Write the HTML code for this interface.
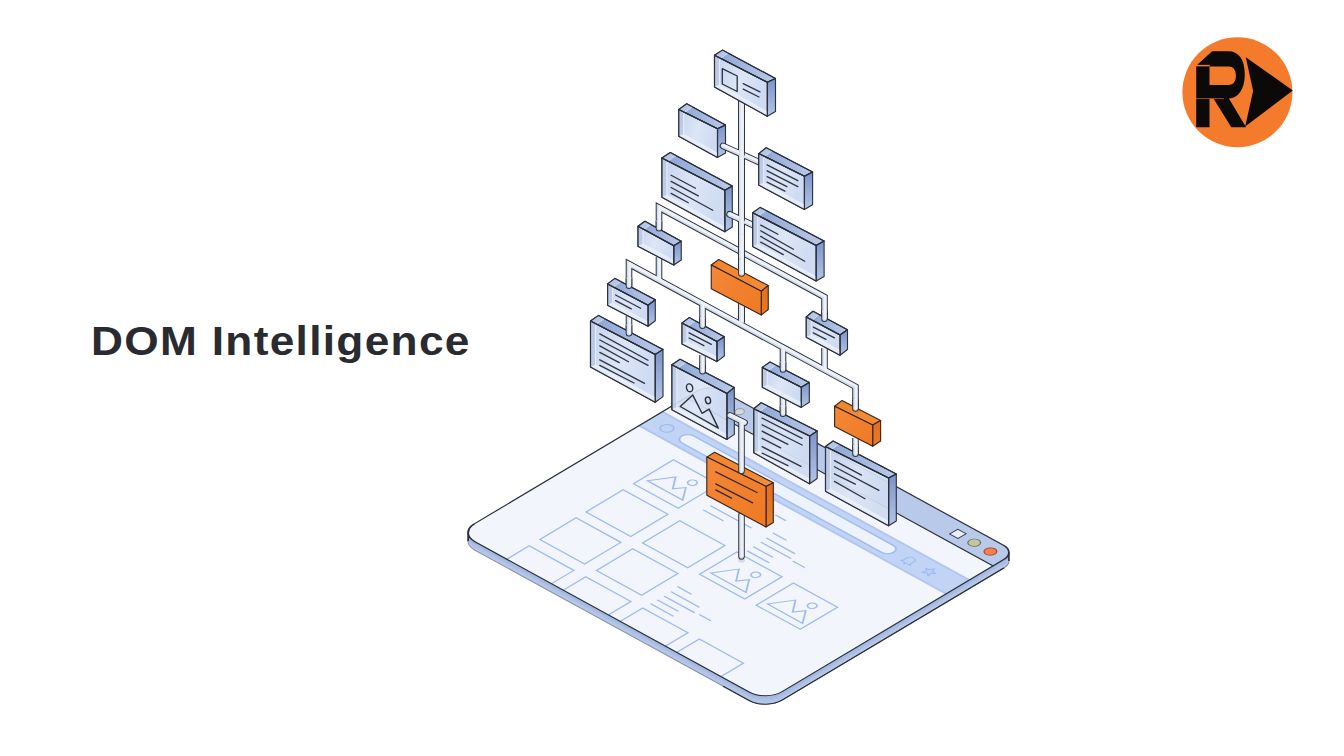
<!DOCTYPE html>
<html><head><meta charset="utf-8"><title>DOM Intelligence</title>
<style>
html,body{margin:0;padding:0;background:#fff;}
body{width:1344px;height:756px;overflow:hidden;position:relative;font-family:"Liberation Sans",sans-serif;}
svg{position:absolute;left:0;top:0;display:block;}
.title{position:absolute;left:91px;top:317px;font-size:40.6px;line-height:48px;font-weight:700;color:#2a2a31;white-space:nowrap;transform-origin:0 50%;letter-spacing:1.2px;transform:scaleX(1.09);}
</style></head><body>
<svg width="1344" height="756" viewBox="0 0 1344 756">
<defs>
<linearGradient id="gfront" x1="0" y1="0" x2="1" y2="0.4"><stop offset="0" stop-color="#c4d2ec"/><stop offset=".55" stop-color="#dce6f6"/><stop offset="1" stop-color="#cfdbf2"/></linearGradient>
<linearGradient id="gtop" x1="0" y1="0" x2="1" y2="0"><stop offset="0" stop-color="#8ba4d4"/><stop offset="1" stop-color="#bac9e8"/></linearGradient>
<linearGradient id="gright" x1="0" y1="0" x2="0" y2="1"><stop offset="0" stop-color="#7a94ca"/><stop offset="1" stop-color="#b3c5e6"/></linearGradient>
<linearGradient id="ofront" x1="0" y1="0" x2="1" y2="1"><stop offset="0" stop-color="#f4873a"/><stop offset="1" stop-color="#ee7a22"/></linearGradient>
<linearGradient id="otop" x1="0" y1="0" x2="1" y2="0"><stop offset="0" stop-color="#f0842a"/><stop offset="1" stop-color="#f38d38"/></linearGradient>
<linearGradient id="oright" x1="0" y1="0" x2="0" y2="1"><stop offset="0" stop-color="#e06e1e"/><stop offset="1" stop-color="#ea7a28"/></linearGradient>
<linearGradient id="gpipe" gradientUnits="userSpaceOnUse" x1="0" y1="0" x2="8" y2="0" spreadMethod="repeat"><stop offset="0" stop-color="#e4e9f2"/><stop offset="1" stop-color="#e4e9f2"/></linearGradient>
<linearGradient id="gside" gradientUnits="userSpaceOnUse" x1="460" y1="0" x2="1010" y2="0"><stop offset="0" stop-color="#a3b8e0"/><stop offset=".5" stop-color="#a9bde3"/><stop offset=".56" stop-color="#bccbe9"/><stop offset=".62" stop-color="#8fa6d4"/><stop offset="1" stop-color="#869ecf"/></linearGradient>
<linearGradient id="gol1" gradientUnits="userSpaceOnUse" x1="185" y1="0" x2="265" y2="0"><stop offset="0" stop-color="#ffffff" stop-opacity=".85"/><stop offset="1" stop-color="#2b303c"/></linearGradient>
<linearGradient id="gol2" gradientUnits="userSpaceOnUse" x1="185" y1="0" x2="265" y2="0"><stop offset="0" stop-color="#8a94aa"/><stop offset="1" stop-color="#7f899c"/></linearGradient>
</defs>
<rect width="1344" height="756" fill="#ffffff"/>
<g id="platform">
<g transform="translate(0 8.5)"><g transform="matrix(0.87700 0.48049 -0.85901 0.51197 709.0 384.0)"><path d="M14 0 L336.06 0 A14 14 0 0 1 350.06 14 L350.06 272.03 A19 19 0 0 1 331.06 291.03 L18 291.03 A18 18 0 0 1 0 273.03 L0 14 A14 14 0 0 1 14 0 Z" fill="url(#gside)" stroke="url(#gol2)" stroke-width="1.1"/><path d="M350.06 14 L350.06 272.03 A19 19 0 0 1 331.06 291.03 L301.06 291.03" fill="none" stroke="#2b303c" stroke-width="1.5"/></g></g>
<g transform="translate(0 7.5)"><path transform="matrix(0.87700 0.48049 -0.85901 0.51197 709.0 384.0)" d="M14 0 L336.06 0 A14 14 0 0 1 350.06 14 L350.06 272.03 A19 19 0 0 1 331.06 291.03 L18 291.03 A18 18 0 0 1 0 273.03 L0 14 A14 14 0 0 1 14 0 Z" fill="url(#gside)"/><path transform="matrix(0.87700 0.48049 -0.85901 0.51197 709.0 384.0)" d="M14 0 L336.06 0 A14 14 0 0 1 350.06 14 L350.06 272.03 A19 19 0 0 1 331.06 291.03 L18 291.03 A18 18 0 0 1 0 273.03 L0 14 A14 14 0 0 1 14 0 Z" fill="#fff" fill-opacity="0.255"/></g>
<g transform="translate(0 6.5)"><path transform="matrix(0.87700 0.48049 -0.85901 0.51197 709.0 384.0)" d="M14 0 L336.06 0 A14 14 0 0 1 350.06 14 L350.06 272.03 A19 19 0 0 1 331.06 291.03 L18 291.03 A18 18 0 0 1 0 273.03 L0 14 A14 14 0 0 1 14 0 Z" fill="url(#gside)"/><path transform="matrix(0.87700 0.48049 -0.85901 0.51197 709.0 384.0)" d="M14 0 L336.06 0 A14 14 0 0 1 350.06 14 L350.06 272.03 A19 19 0 0 1 331.06 291.03 L18 291.03 A18 18 0 0 1 0 273.03 L0 14 A14 14 0 0 1 14 0 Z" fill="#fff" fill-opacity="0.211"/></g>
<g transform="translate(0 5.5)"><path transform="matrix(0.87700 0.48049 -0.85901 0.51197 709.0 384.0)" d="M14 0 L336.06 0 A14 14 0 0 1 350.06 14 L350.06 272.03 A19 19 0 0 1 331.06 291.03 L18 291.03 A18 18 0 0 1 0 273.03 L0 14 A14 14 0 0 1 14 0 Z" fill="url(#gside)"/><path transform="matrix(0.87700 0.48049 -0.85901 0.51197 709.0 384.0)" d="M14 0 L336.06 0 A14 14 0 0 1 350.06 14 L350.06 272.03 A19 19 0 0 1 331.06 291.03 L18 291.03 A18 18 0 0 1 0 273.03 L0 14 A14 14 0 0 1 14 0 Z" fill="#fff" fill-opacity="0.166"/></g>
<g transform="translate(0 4.5)"><path transform="matrix(0.87700 0.48049 -0.85901 0.51197 709.0 384.0)" d="M14 0 L336.06 0 A14 14 0 0 1 350.06 14 L350.06 272.03 A19 19 0 0 1 331.06 291.03 L18 291.03 A18 18 0 0 1 0 273.03 L0 14 A14 14 0 0 1 14 0 Z" fill="url(#gside)"/><path transform="matrix(0.87700 0.48049 -0.85901 0.51197 709.0 384.0)" d="M14 0 L336.06 0 A14 14 0 0 1 350.06 14 L350.06 272.03 A19 19 0 0 1 331.06 291.03 L18 291.03 A18 18 0 0 1 0 273.03 L0 14 A14 14 0 0 1 14 0 Z" fill="#fff" fill-opacity="0.121"/></g>
<g transform="translate(0 3.5)"><path transform="matrix(0.87700 0.48049 -0.85901 0.51197 709.0 384.0)" d="M14 0 L336.06 0 A14 14 0 0 1 350.06 14 L350.06 272.03 A19 19 0 0 1 331.06 291.03 L18 291.03 A18 18 0 0 1 0 273.03 L0 14 A14 14 0 0 1 14 0 Z" fill="url(#gside)"/><path transform="matrix(0.87700 0.48049 -0.85901 0.51197 709.0 384.0)" d="M14 0 L336.06 0 A14 14 0 0 1 350.06 14 L350.06 272.03 A19 19 0 0 1 331.06 291.03 L18 291.03 A18 18 0 0 1 0 273.03 L0 14 A14 14 0 0 1 14 0 Z" fill="#fff" fill-opacity="0.076"/></g>
<g transform="translate(0 2.5)"><path transform="matrix(0.87700 0.48049 -0.85901 0.51197 709.0 384.0)" d="M14 0 L336.06 0 A14 14 0 0 1 350.06 14 L350.06 272.03 A19 19 0 0 1 331.06 291.03 L18 291.03 A18 18 0 0 1 0 273.03 L0 14 A14 14 0 0 1 14 0 Z" fill="url(#gside)"/><path transform="matrix(0.87700 0.48049 -0.85901 0.51197 709.0 384.0)" d="M14 0 L336.06 0 A14 14 0 0 1 350.06 14 L350.06 272.03 A19 19 0 0 1 331.06 291.03 L18 291.03 A18 18 0 0 1 0 273.03 L0 14 A14 14 0 0 1 14 0 Z" fill="#fff" fill-opacity="0.032"/></g>
<g transform="translate(0 1.5)"><path transform="matrix(0.87700 0.48049 -0.85901 0.51197 709.0 384.0)" d="M14 0 L336.06 0 A14 14 0 0 1 350.06 14 L350.06 272.03 A19 19 0 0 1 331.06 291.03 L18 291.03 A18 18 0 0 1 0 273.03 L0 14 A14 14 0 0 1 14 0 Z" fill="url(#gside)"/><path transform="matrix(0.87700 0.48049 -0.85901 0.51197 709.0 384.0)" d="M14 0 L336.06 0 A14 14 0 0 1 350.06 14 L350.06 272.03 A19 19 0 0 1 331.06 291.03 L18 291.03 A18 18 0 0 1 0 273.03 L0 14 A14 14 0 0 1 14 0 Z" fill="#fff" fill-opacity="-0.013"/></g>
<g transform="translate(0 0.5)"><path transform="matrix(0.87700 0.48049 -0.85901 0.51197 709.0 384.0)" d="M14 0 L336.06 0 A14 14 0 0 1 350.06 14 L350.06 272.03 A19 19 0 0 1 331.06 291.03 L18 291.03 A18 18 0 0 1 0 273.03 L0 14 A14 14 0 0 1 14 0 Z" fill="url(#gside)"/><path transform="matrix(0.87700 0.48049 -0.85901 0.51197 709.0 384.0)" d="M14 0 L336.06 0 A14 14 0 0 1 350.06 14 L350.06 272.03 A19 19 0 0 1 331.06 291.03 L18 291.03 A18 18 0 0 1 0 273.03 L0 14 A14 14 0 0 1 14 0 Z" fill="#fff" fill-opacity="-0.058"/></g>
<g transform="matrix(0.87700 0.48049 -0.85901 0.51197 709.0 384.0)">
<clipPath id="pc"><path d="M14 0 L336.06 0 A14 14 0 0 1 350.06 14 L350.06 272.03 A19 19 0 0 1 331.06 291.03 L18 291.03 A18 18 0 0 1 0 273.03 L0 14 A14 14 0 0 1 14 0 Z"/></clipPath>
<path d="M14 0 L336.06 0 A14 14 0 0 1 350.06 14 L350.06 272.03 A19 19 0 0 1 331.06 291.03 L18 291.03 A18 18 0 0 1 0 273.03 L0 14 A14 14 0 0 1 14 0 Z" fill="#f2f6fc"/>
<g clip-path="url(#pc)">
<rect x="-2" y="-2" width="354.06" height="28.8" fill="#b8c9e9"/>
<line x1="0" y1="26.8" x2="350.06" y2="26.8" stroke="#2b303c" stroke-width="1.3"/>
<rect x="-2" y="53.3" width="354.06" height="29" fill="#c2d4f5"/>
<rect x="-2" y="53.3" width="354.06" height="2.2" fill="#a9c1ef" opacity=".7"/>
<rect x="-2" y="80.1" width="354.06" height="2.2" fill="#a9c1ef" opacity=".7"/>
</g>
<rect x="35.8" y="61.5" width="241.6" height="13.6" rx="6.8" fill="#edf3fc" stroke="#9fbbf0" stroke-width="1.6"/>
<circle cx="19.2" cy="68.6" r="5.6" fill="none" stroke="#9fbbf0" stroke-width="1.5"/>
<path d="M291 71 L291 67 A4 4 0 0 1 299 67 L299 71 L300.5 72.5 L289.5 72.5 Z M294 74 L296 74" fill="none" stroke="#9fbbf0" stroke-width="1.3" stroke-linejoin="round"/>
<path d="M318 62.5 L319.5 66.2 L323.5 66.5 L320.4 68.8 L321.5 73 L318 70.6 L314.5 73 L315.6 68.8 L312.5 66.5 L316.5 66.2 Z" fill="none" stroke="#9fbbf0" stroke-width="1.3" stroke-linejoin="round"/>
<rect x="292.5" y="9" width="9.5" height="9.5" fill="#e9effa" stroke="#2b303c" stroke-width="1"/>
<circle cx="315.7" cy="13.6" r="5.2" fill="#c3c79f" stroke="#6a6f58" stroke-width="1"/>
<circle cx="334.2" cy="13.6" r="5.2" fill="#f4804f" stroke="#9a4a2a" stroke-width="1"/>
<g fill="none" stroke="#9fbbf0" stroke-width="1.5" stroke-linejoin="miter" clip-path="url(#pc)">
<rect x="54.5" y="97" width="51.0" height="46.5"/>
<path d="M59.8 132.8 L72.8 113.2 L83.0 126.9 L89.5 118.3 L100.1 132.9 Z"/>
<circle cx="88.5" cy="109.7" r="3.9"/>
<rect x="54.5" y="155.5" width="51.0" height="43.3"/>
<rect x="54.5" y="210.3" width="51.0" height="42.2"/>
<rect x="54.5" y="265" width="51.0" height="43.0"/>
<rect x="119" y="155.5" width="51.5" height="43.3"/>
<rect x="119" y="210.3" width="51.5" height="42.2"/>
<rect x="119" y="265" width="51.5" height="43.0"/>
<rect x="184" y="155.5" width="51.5" height="43.3"/>
<path d="M189.3 191.3 L202.3 171.7 L212.5 185.4 L219.0 176.8 L229.6 191.4 Z"/>
<circle cx="218.0" cy="168.2" r="3.9"/>
<rect x="184" y="265" width="51.5" height="43.0"/>
<rect x="248.5" y="155.5" width="50.3" height="43.3"/>
<path d="M253.8 191.3 L266.8 171.7 L277.0 185.4 L283.5 176.8 L294.1 191.4 Z"/>
<circle cx="282.5" cy="168.2" r="3.9"/>
<rect x="248.5" y="265" width="50.3" height="43.0"/>
<line x1="122" y1="123" x2="169" y2="123"/>
<line x1="122" y1="131.3" x2="145" y2="131.3"/>
<line x1="170" y1="96.3" x2="182" y2="96.3"/>
<line x1="186.3" y1="116" x2="202" y2="116"/>
<line x1="187.5" y1="124.8" x2="220.3" y2="124.8"/>
<line x1="188.5" y1="132" x2="223" y2="132"/>
<line x1="188.3" y1="140.8" x2="211" y2="140.8"/>
<line x1="188.8" y1="148.5" x2="214.2" y2="148.5"/>
<line x1="226.3" y1="133.5" x2="240" y2="133.5"/>
<line x1="183" y1="223.7" x2="199.3" y2="223.7"/>
<line x1="184.5" y1="232.6" x2="217" y2="232.6"/>
<line x1="184.7" y1="240.8" x2="219.5" y2="240.8"/>
<line x1="184.4" y1="248.5" x2="208.6" y2="248.5"/>
<line x1="184.3" y1="256.2" x2="210.6" y2="256.2"/>
<line x1="223.7" y1="240" x2="237.3" y2="240"/>
</g>
<path d="M331.06 291.03 L18 291.03 A18 18 0 0 1 0 273.03" fill="none" stroke="#2b303c" stroke-width="1.4"/>
<path d="M0 273.03 A18 18 0 0 0 5.14 285.63 L13.61 294.28" fill="none" stroke="#2b303c" stroke-width="1.4"/>
<path d="M346.06 4.20 L354.53 12.85" fill="none" stroke="#2b303c" stroke-width="1.3"/>
<path d="M0 273.03 L0 14 A14 14 0 0 1 14 0 L336.06 0 A14 14 0 0 1 350.06 14 L350.06 272.03 A19 19 0 0 1 331.06 291.03" fill="none" stroke="#2b303c" stroke-width="1.4"/>
</g>
</g>
<ellipse cx="741.6" cy="560.5" rx="3.2" ry="2.2" fill="#c8cfd8" opacity=".7"/>
<path d="M741.50 515.00 L741.50 556.50" fill="none" stroke="#30353f" stroke-width="6.6" stroke-linecap="round" stroke-linejoin="miter"/>
<path d="M741.50 515.00 L741.50 556.50" fill="none" stroke="#d6deea" stroke-width="4.60" stroke-linecap="round" stroke-linejoin="miter"/>
<path d="M741.50 515.00 L741.50 556.50" transform="translate(.6 -.5)" fill="none" stroke="#eef2f8" stroke-width="2.60" stroke-linecap="round" stroke-linejoin="miter"/>
<path d="M659.00 232.00 L659.00 207.50 L824.50 297.00 L824.50 322.00" fill="none" stroke="#30353f" stroke-width="6.6" stroke-linecap="butt" stroke-linejoin="miter"/>
<path d="M659.00 232.00 L659.00 207.50 L824.50 297.00 L824.50 322.00" fill="none" stroke="#d6deea" stroke-width="4.60" stroke-linecap="butt" stroke-linejoin="miter"/>
<path d="M659.00 232.00 L659.00 207.50 L824.50 297.00 L824.50 322.00" transform="translate(.6 -.5)" fill="none" stroke="#eef2f8" stroke-width="2.60" stroke-linecap="butt" stroke-linejoin="miter"/>
<path d="M741.50 100.00 L741.50 322.80" fill="none" stroke="#30353f" stroke-width="7.0" stroke-linecap="butt" stroke-linejoin="miter"/>
<path d="M629.00 289.00 L629.00 264.00 L855.50 386.70 L855.50 411.00" fill="none" stroke="#30353f" stroke-width="6.6" stroke-linecap="butt" stroke-linejoin="miter"/>
<path d="M659.00 257.00 L659.00 280.40" fill="none" stroke="#30353f" stroke-width="6.6" stroke-linecap="butt" stroke-linejoin="miter"/>
<path d="M702.50 303.90 L702.50 329.00" fill="none" stroke="#30353f" stroke-width="6.6" stroke-linecap="butt" stroke-linejoin="miter"/>
<path d="M783.00 347.50 L783.00 372.00" fill="none" stroke="#30353f" stroke-width="6.6" stroke-linecap="butt" stroke-linejoin="miter"/>
<path d="M824.50 348.00 L824.50 370.00" fill="none" stroke="#30353f" stroke-width="6.6" stroke-linecap="butt" stroke-linejoin="miter"/>
<path d="M629.00 316.00 L629.00 336.00" fill="none" stroke="#30353f" stroke-width="6.6" stroke-linecap="butt" stroke-linejoin="miter"/>
<path d="M702.50 355.00 L702.50 374.00" fill="none" stroke="#30353f" stroke-width="6.6" stroke-linecap="butt" stroke-linejoin="miter"/>
<path d="M783.00 397.00 L783.00 417.00" fill="none" stroke="#30353f" stroke-width="6.6" stroke-linecap="butt" stroke-linejoin="miter"/>
<path d="M855.50 438.00 L855.50 457.00" fill="none" stroke="#30353f" stroke-width="6.6" stroke-linecap="butt" stroke-linejoin="miter"/>
<path d="M738.50 218.40 L753.50 225.30" fill="none" stroke="#30353f" stroke-width="6.6" stroke-linecap="butt" stroke-linejoin="miter"/>
<path d="M738.50 152.80 L759.20 162.20" fill="none" stroke="#30353f" stroke-width="6.6" stroke-linecap="butt" stroke-linejoin="miter"/>
<path d="M741.50 100.00 L741.50 322.80" fill="none" stroke="#d6deea" stroke-width="5.00" stroke-linecap="butt" stroke-linejoin="miter"/>
<path d="M629.00 289.00 L629.00 264.00 L855.50 386.70 L855.50 411.00" fill="none" stroke="#d6deea" stroke-width="4.60" stroke-linecap="butt" stroke-linejoin="miter"/>
<path d="M659.00 257.00 L659.00 280.40" fill="none" stroke="#d6deea" stroke-width="4.60" stroke-linecap="butt" stroke-linejoin="miter"/>
<path d="M702.50 303.90 L702.50 329.00" fill="none" stroke="#d6deea" stroke-width="4.60" stroke-linecap="butt" stroke-linejoin="miter"/>
<path d="M783.00 347.50 L783.00 372.00" fill="none" stroke="#d6deea" stroke-width="4.60" stroke-linecap="butt" stroke-linejoin="miter"/>
<path d="M824.50 348.00 L824.50 370.00" fill="none" stroke="#d6deea" stroke-width="4.60" stroke-linecap="butt" stroke-linejoin="miter"/>
<path d="M629.00 316.00 L629.00 336.00" fill="none" stroke="#d6deea" stroke-width="4.60" stroke-linecap="butt" stroke-linejoin="miter"/>
<path d="M702.50 355.00 L702.50 374.00" fill="none" stroke="#d6deea" stroke-width="4.60" stroke-linecap="butt" stroke-linejoin="miter"/>
<path d="M783.00 397.00 L783.00 417.00" fill="none" stroke="#d6deea" stroke-width="4.60" stroke-linecap="butt" stroke-linejoin="miter"/>
<path d="M855.50 438.00 L855.50 457.00" fill="none" stroke="#d6deea" stroke-width="4.60" stroke-linecap="butt" stroke-linejoin="miter"/>
<path d="M738.50 218.40 L753.50 225.30" fill="none" stroke="#d6deea" stroke-width="4.60" stroke-linecap="butt" stroke-linejoin="miter"/>
<path d="M738.50 152.80 L759.20 162.20" fill="none" stroke="#d6deea" stroke-width="4.60" stroke-linecap="butt" stroke-linejoin="miter"/>
<path d="M741.50 100.00 L741.50 322.80" transform="translate(.6 -.5)" fill="none" stroke="#eef2f8" stroke-width="3.00" stroke-linecap="butt" stroke-linejoin="miter"/>
<path d="M629.00 289.00 L629.00 264.00 L855.50 386.70 L855.50 411.00" transform="translate(.6 -.5)" fill="none" stroke="#eef2f8" stroke-width="2.60" stroke-linecap="butt" stroke-linejoin="miter"/>
<path d="M659.00 257.00 L659.00 280.40" transform="translate(.6 -.5)" fill="none" stroke="#eef2f8" stroke-width="2.60" stroke-linecap="butt" stroke-linejoin="miter"/>
<path d="M702.50 303.90 L702.50 329.00" transform="translate(.6 -.5)" fill="none" stroke="#eef2f8" stroke-width="2.60" stroke-linecap="butt" stroke-linejoin="miter"/>
<path d="M783.00 347.50 L783.00 372.00" transform="translate(.6 -.5)" fill="none" stroke="#eef2f8" stroke-width="2.60" stroke-linecap="butt" stroke-linejoin="miter"/>
<path d="M824.50 348.00 L824.50 370.00" transform="translate(.6 -.5)" fill="none" stroke="#eef2f8" stroke-width="2.60" stroke-linecap="butt" stroke-linejoin="miter"/>
<path d="M629.00 316.00 L629.00 336.00" transform="translate(.6 -.5)" fill="none" stroke="#eef2f8" stroke-width="2.60" stroke-linecap="butt" stroke-linejoin="miter"/>
<path d="M702.50 355.00 L702.50 374.00" transform="translate(.6 -.5)" fill="none" stroke="#eef2f8" stroke-width="2.60" stroke-linecap="butt" stroke-linejoin="miter"/>
<path d="M783.00 397.00 L783.00 417.00" transform="translate(.6 -.5)" fill="none" stroke="#eef2f8" stroke-width="2.60" stroke-linecap="butt" stroke-linejoin="miter"/>
<path d="M855.50 438.00 L855.50 457.00" transform="translate(.6 -.5)" fill="none" stroke="#eef2f8" stroke-width="2.60" stroke-linecap="butt" stroke-linejoin="miter"/>
<path d="M738.50 218.40 L753.50 225.30" transform="translate(.6 -.5)" fill="none" stroke="#eef2f8" stroke-width="2.60" stroke-linecap="butt" stroke-linejoin="miter"/>
<path d="M738.50 152.80 L759.20 162.20" transform="translate(.6 -.5)" fill="none" stroke="#eef2f8" stroke-width="2.60" stroke-linecap="butt" stroke-linejoin="miter"/>
<g id="B1" stroke="#2b303c" stroke-width="1.12" stroke-linejoin="round">
<polygon points="714.50,55.20 722.40,50.10 775.50,78.40 767.30,82.30" fill="url(#gtop)"/>
<polygon points="767.30,82.30 775.50,78.40 775.50,111.50 767.30,116.30" fill="url(#gright)"/>
<polygon points="714.50,55.20 767.30,82.30 767.30,116.30 714.50,87.10" fill="url(#gfront)" fill-opacity="1.0"/>
<polygon points="714.50,55.20 719.50,58.97 719.50,85.27 714.50,87.10" fill="#aebfe2" fill-opacity=".55" stroke="none"/>
<polygon points="714.50,87.10 719.50,85.27 766.70,111.70 767.30,116.30" fill="#eaf0fa" fill-opacity=".75" stroke="none"/>
<path d="M719.50 58.97 L719.50 85.27 L766.70 111.70" fill="none" stroke="#f1f5fb" stroke-opacity=".8" stroke-width="1.1"/>
<path d="M715.30 86.80 L719.50 85.27" fill="none" stroke="#f1f5fb" stroke-opacity=".6" stroke-width=".9"/>
<polygon points="714.50,55.20 722.40,50.10 728.40,53.18 720.50,58.28" fill="#cfdbf1" fill-opacity=".6" stroke="none"/>
<path d="M720.50 58.28 L728.40 53.18" fill="none" stroke="#e6edf8" stroke-opacity=".7" stroke-width=".9"/>
<polygon points="714.50,55.20 722.40,50.10 775.50,78.40 767.30,82.30" fill="none"/>
<polygon points="714.50,55.20 767.30,82.30 767.30,116.30 714.50,87.10" fill="none"/>
<line x1="743.2" y1="83.6" x2="760" y2="91.9" stroke="#2f3442" stroke-width="1.3" stroke-linecap="round"/>
<line x1="743.2" y1="89.1" x2="759" y2="97" stroke="#2f3442" stroke-width="1.3" stroke-linecap="round"/>
<polygon points="722.3,68.7 737.2,76 737.2,91.5 722.3,84" fill="none" stroke="#2b303c" stroke-width="1.3"/>
</g>
<g id="B2" stroke="#2b303c" stroke-width="1.12" stroke-linejoin="round">
<polygon points="678.75,109.50 686.75,103.75 725.50,125.00 717.50,128.75" fill="url(#gtop)"/>
<polygon points="717.50,128.75 725.50,125.00 725.50,153.00 717.50,157.50" fill="url(#gright)"/>
<polygon points="678.75,109.50 717.50,128.75 717.50,157.50 678.75,136.25" fill="url(#gfront)" fill-opacity="1.0"/>
<polygon points="678.75,109.50 683.75,113.18 683.75,134.39 678.75,136.25" fill="#aebfe2" fill-opacity=".55" stroke="none"/>
<polygon points="678.75,136.25 683.75,134.39 716.90,152.90 717.50,157.50" fill="#eaf0fa" fill-opacity=".75" stroke="none"/>
<path d="M683.75 113.18 L683.75 134.39 L716.90 152.90" fill="none" stroke="#f1f5fb" stroke-opacity=".8" stroke-width="1.1"/>
<path d="M679.55 135.95 L683.75 134.39" fill="none" stroke="#f1f5fb" stroke-opacity=".6" stroke-width=".9"/>
<polygon points="678.75,109.50 686.75,103.75 692.75,106.73 684.75,112.48" fill="#cfdbf1" fill-opacity=".6" stroke="none"/>
<path d="M684.75 112.48 L692.75 106.73" fill="none" stroke="#e6edf8" stroke-opacity=".7" stroke-width=".9"/>
<polygon points="678.75,109.50 686.75,103.75 725.50,125.00 717.50,128.75" fill="none"/>
<polygon points="678.75,109.50 717.50,128.75 717.50,157.50 678.75,136.25" fill="none"/>
</g>
<g id="B4" stroke="#2b303c" stroke-width="1.12" stroke-linejoin="round">
<polygon points="661.90,158.00 670.30,152.50 732.30,186.00 724.80,190.20" fill="url(#gtop)"/>
<polygon points="724.80,190.20 732.30,186.00 732.30,227.00 724.80,231.70" fill="url(#gright)"/>
<polygon points="661.90,158.00 724.80,190.20 724.80,231.70 661.90,197.30" fill="url(#gfront)" fill-opacity="1.0"/>
<polygon points="661.90,158.00 666.90,161.76 666.90,195.43 661.90,197.30" fill="#aebfe2" fill-opacity=".55" stroke="none"/>
<polygon points="661.90,197.30 666.90,195.43 724.20,227.10 724.80,231.70" fill="#eaf0fa" fill-opacity=".75" stroke="none"/>
<path d="M666.90 161.76 L666.90 195.43 L724.20 227.10" fill="none" stroke="#f1f5fb" stroke-opacity=".8" stroke-width="1.1"/>
<path d="M662.70 197.00 L666.90 195.43" fill="none" stroke="#f1f5fb" stroke-opacity=".6" stroke-width=".9"/>
<polygon points="661.90,158.00 670.30,152.50 676.30,155.57 667.90,161.07" fill="#cfdbf1" fill-opacity=".6" stroke="none"/>
<path d="M667.90 161.07 L676.30 155.57" fill="none" stroke="#e6edf8" stroke-opacity=".7" stroke-width=".9"/>
<polygon points="661.90,158.00 670.30,152.50 732.30,186.00 724.80,190.20" fill="none"/>
<polygon points="661.90,158.00 724.80,190.20 724.80,231.70 661.90,197.30" fill="none"/>
<line x1="671.1" y1="175.2" x2="695.5" y2="188.3" stroke="#2f3442" stroke-width="1.3" stroke-linecap="round"/>
<line x1="671.1" y1="181.4" x2="698.3" y2="195.9" stroke="#2f3442" stroke-width="1.3" stroke-linecap="round"/>
<line x1="671.1" y1="187.5" x2="712.8" y2="210.3" stroke="#2f3442" stroke-width="1.3" stroke-linecap="round"/>
<line x1="671.1" y1="193.4" x2="688.3" y2="202.8" stroke="#2f3442" stroke-width="1.3" stroke-linecap="round"/>
</g>
<path d="M723.00 145.90 L741.50 154.20" fill="none" stroke="#30353f" stroke-width="6.6" stroke-linecap="round" stroke-linejoin="miter"/>
<path d="M729.50 214.30 L741.50 219.80" fill="none" stroke="#30353f" stroke-width="6.6" stroke-linecap="round" stroke-linejoin="miter"/>
<path d="M723.00 145.90 L741.50 154.20" fill="none" stroke="#d6deea" stroke-width="4.60" stroke-linecap="round" stroke-linejoin="miter"/>
<path d="M729.50 214.30 L741.50 219.80" fill="none" stroke="#d6deea" stroke-width="4.60" stroke-linecap="round" stroke-linejoin="miter"/>
<path d="M723.00 145.90 L741.50 154.20" transform="translate(.6 -.5)" fill="none" stroke="#eef2f8" stroke-width="2.60" stroke-linecap="round" stroke-linejoin="miter"/>
<path d="M729.50 214.30 L741.50 219.80" transform="translate(.6 -.5)" fill="none" stroke="#eef2f8" stroke-width="2.60" stroke-linecap="round" stroke-linejoin="miter"/>
<path d="M741.5 140 L741.5 235" fill="none" stroke="#d6deea" stroke-width="5"/>
<path d="M742.1 139.5 L742.1 234.5" fill="none" stroke="#eef2f8" stroke-width="3"/>
<g id="B3" stroke="#2b303c" stroke-width="1.12" stroke-linejoin="round">
<polygon points="758.70,153.60 766.20,147.80 812.60,172.00 804.40,176.30" fill="url(#gtop)"/>
<polygon points="804.40,176.30 812.60,172.00 812.60,204.70 804.40,209.40" fill="url(#gright)"/>
<polygon points="758.70,153.60 804.40,176.30 804.40,209.40 758.70,185.10" fill="url(#gfront)" fill-opacity="1.0"/>
<polygon points="758.70,153.60 763.70,157.28 763.70,183.16 758.70,185.10" fill="#aebfe2" fill-opacity=".55" stroke="none"/>
<polygon points="758.70,185.10 763.70,183.16 803.80,204.80 804.40,209.40" fill="#eaf0fa" fill-opacity=".75" stroke="none"/>
<path d="M763.70 157.28 L763.70 183.16 L803.80 204.80" fill="none" stroke="#f1f5fb" stroke-opacity=".8" stroke-width="1.1"/>
<path d="M759.50 184.80 L763.70 183.16" fill="none" stroke="#f1f5fb" stroke-opacity=".6" stroke-width=".9"/>
<polygon points="758.70,153.60 766.20,147.80 772.20,150.78 764.70,156.58" fill="#cfdbf1" fill-opacity=".6" stroke="none"/>
<path d="M764.70 156.58 L772.20 150.78" fill="none" stroke="#e6edf8" stroke-opacity=".7" stroke-width=".9"/>
<polygon points="758.70,153.60 766.20,147.80 812.60,172.00 804.40,176.30" fill="none"/>
<polygon points="758.70,153.60 804.40,176.30 804.40,209.40 758.70,185.10" fill="none"/>
<line x1="767.1" y1="164.8" x2="797.8" y2="180.7" stroke="#2f3442" stroke-width="1.3" stroke-linecap="round"/>
<line x1="767.1" y1="170.8" x2="797.8" y2="186.6" stroke="#2f3442" stroke-width="1.3" stroke-linecap="round"/>
<line x1="767.1" y1="176.7" x2="786.9" y2="186.6" stroke="#2f3442" stroke-width="1.3" stroke-linecap="round"/>
<line x1="767.1" y1="182.1" x2="784.9" y2="191.2" stroke="#2f3442" stroke-width="1.3" stroke-linecap="round"/>
</g>
<g id="B5" stroke="#2b303c" stroke-width="1.12" stroke-linejoin="round">
<polygon points="752.70,212.70 760.20,207.40 824.10,241.00 816.10,245.40" fill="url(#gtop)"/>
<polygon points="816.10,245.40 824.10,241.00 824.10,276.40 816.10,281.00" fill="url(#gright)"/>
<polygon points="752.70,212.70 816.10,245.40 816.10,281.00 752.70,246.50" fill="url(#gfront)" fill-opacity="1.0"/>
<polygon points="752.70,212.70 757.70,216.48 757.70,244.62 752.70,246.50" fill="#aebfe2" fill-opacity=".55" stroke="none"/>
<polygon points="752.70,246.50 757.70,244.62 815.50,276.40 816.10,281.00" fill="#eaf0fa" fill-opacity=".75" stroke="none"/>
<path d="M757.70 216.48 L757.70 244.62 L815.50 276.40" fill="none" stroke="#f1f5fb" stroke-opacity=".8" stroke-width="1.1"/>
<path d="M753.50 246.20 L757.70 244.62" fill="none" stroke="#f1f5fb" stroke-opacity=".6" stroke-width=".9"/>
<polygon points="752.70,212.70 760.20,207.40 766.20,210.49 758.70,215.79" fill="#cfdbf1" fill-opacity=".6" stroke="none"/>
<path d="M758.70 215.79 L766.20 210.49" fill="none" stroke="#e6edf8" stroke-opacity=".7" stroke-width=".9"/>
<polygon points="752.70,212.70 760.20,207.40 824.10,241.00 816.10,245.40" fill="none"/>
<polygon points="752.70,212.70 816.10,245.40 816.10,281.00 752.70,246.50" fill="none"/>
<line x1="760.7" y1="225.1" x2="777.9" y2="234.2" stroke="#2f3442" stroke-width="1.3" stroke-linecap="round"/>
<line x1="760.7" y1="230.8" x2="793.4" y2="249.2" stroke="#2f3442" stroke-width="1.3" stroke-linecap="round"/>
<line x1="760.7" y1="236.4" x2="804.7" y2="261.2" stroke="#2f3442" stroke-width="1.3" stroke-linecap="round"/>
<line x1="760.7" y1="242.1" x2="783.3" y2="254.6" stroke="#2f3442" stroke-width="1.3" stroke-linecap="round"/>
</g>
<g id="B6" stroke="#2b303c" stroke-width="1.12" stroke-linejoin="round">
<polygon points="638.00,226.25 645.00,221.25 681.25,241.25 673.75,245.75" fill="url(#gtop)"/>
<polygon points="673.75,245.75 681.25,241.25 681.25,260.00 673.75,265.00" fill="url(#gright)"/>
<polygon points="638.00,226.25 673.75,245.75 673.75,265.00 638.00,246.25" fill="url(#gfront)" fill-opacity="1.0"/>
<polygon points="638.00,226.25 643.00,230.18 643.00,244.27 638.00,246.25" fill="#aebfe2" fill-opacity=".55" stroke="none"/>
<polygon points="638.00,246.25 643.00,244.27 673.15,260.40 673.75,265.00" fill="#eaf0fa" fill-opacity=".75" stroke="none"/>
<path d="M643.00 230.18 L643.00 244.27 L673.15 260.40" fill="none" stroke="#f1f5fb" stroke-opacity=".8" stroke-width="1.1"/>
<path d="M638.80 245.95 L643.00 244.27" fill="none" stroke="#f1f5fb" stroke-opacity=".6" stroke-width=".9"/>
<polygon points="638.00,226.25 645.00,221.25 651.00,224.52 644.00,229.52" fill="#cfdbf1" fill-opacity=".6" stroke="none"/>
<path d="M644.00 229.52 L651.00 224.52" fill="none" stroke="#e6edf8" stroke-opacity=".7" stroke-width=".9"/>
<polygon points="638.00,226.25 645.00,221.25 681.25,241.25 673.75,245.75" fill="none"/>
<polygon points="638.00,226.25 673.75,245.75 673.75,265.00 638.00,246.25" fill="none"/>
</g>
<g id="O1" stroke="#3a2418" stroke-width="1.12" stroke-linejoin="round">
<polygon points="711.25,265.00 718.75,259.50 768.25,285.50 761.25,291.25" fill="url(#otop)"/>
<polygon points="761.25,291.25 768.25,285.50 768.25,309.50 761.25,315.00" fill="url(#oright)"/>
<polygon points="711.25,265.00 761.25,291.25 761.25,315.00 711.25,288.75" fill="url(#ofront)" fill-opacity="1.0"/>
</g>
<g id="B7" stroke="#2b303c" stroke-width="1.12" stroke-linejoin="round">
<polygon points="607.60,283.90 615.00,278.40 655.30,299.70 648.00,305.20" fill="url(#gtop)"/>
<polygon points="648.00,305.20 655.30,299.70 655.30,320.80 648.00,326.30" fill="url(#gright)"/>
<polygon points="607.60,283.90 648.00,305.20 648.00,326.30 607.60,305.20" fill="url(#gfront)" fill-opacity="1.0"/>
<polygon points="607.60,283.90 612.60,287.74 612.60,303.21 607.60,305.20" fill="#aebfe2" fill-opacity=".55" stroke="none"/>
<polygon points="607.60,305.20 612.60,303.21 647.40,321.70 648.00,326.30" fill="#eaf0fa" fill-opacity=".75" stroke="none"/>
<path d="M612.60 287.74 L612.60 303.21 L647.40 321.70" fill="none" stroke="#f1f5fb" stroke-opacity=".8" stroke-width="1.1"/>
<path d="M608.40 304.90 L612.60 303.21" fill="none" stroke="#f1f5fb" stroke-opacity=".6" stroke-width=".9"/>
<polygon points="607.60,283.90 615.00,278.40 621.00,281.56 613.60,287.06" fill="#cfdbf1" fill-opacity=".6" stroke="none"/>
<path d="M613.60 287.06 L621.00 281.56" fill="none" stroke="#e6edf8" stroke-opacity=".7" stroke-width=".9"/>
<polygon points="607.60,283.90 615.00,278.40 655.30,299.70 648.00,305.20" fill="none"/>
<polygon points="607.60,283.90 648.00,305.20 648.00,326.30 607.60,305.20" fill="none"/>
<line x1="615.6" y1="295" x2="640.6" y2="308.3" stroke="#2f3442" stroke-width="1.3" stroke-linecap="round"/>
<line x1="615.6" y1="300.6" x2="631.3" y2="308.9" stroke="#2f3442" stroke-width="1.3" stroke-linecap="round"/>
</g>
<g id="B8" stroke="#2b303c" stroke-width="1.12" stroke-linejoin="round">
<polygon points="682.00,323.00 689.20,317.60 724.30,336.70 716.90,341.60" fill="url(#gtop)"/>
<polygon points="716.90,341.60 724.30,336.70 724.30,356.00 716.90,361.60" fill="url(#gright)"/>
<polygon points="682.00,323.00 716.90,341.60 716.90,361.60 682.00,343.90" fill="url(#gfront)" fill-opacity="1.0"/>
<polygon points="682.00,323.00 687.00,326.86 687.00,341.84 682.00,343.90" fill="#aebfe2" fill-opacity=".55" stroke="none"/>
<polygon points="682.00,343.90 687.00,341.84 716.30,357.00 716.90,361.60" fill="#eaf0fa" fill-opacity=".75" stroke="none"/>
<path d="M687.00 326.86 L687.00 341.84 L716.30 357.00" fill="none" stroke="#f1f5fb" stroke-opacity=".8" stroke-width="1.1"/>
<path d="M682.80 343.60 L687.00 341.84" fill="none" stroke="#f1f5fb" stroke-opacity=".6" stroke-width=".9"/>
<polygon points="682.00,323.00 689.20,317.60 695.20,320.80 688.00,326.20" fill="#cfdbf1" fill-opacity=".6" stroke="none"/>
<path d="M688.00 326.20 L695.20 320.80" fill="none" stroke="#e6edf8" stroke-opacity=".7" stroke-width=".9"/>
<polygon points="682.00,323.00 689.20,317.60 724.30,336.70 716.90,341.60" fill="none"/>
<polygon points="682.00,323.00 716.90,341.60 716.90,361.60 682.00,343.90" fill="none"/>
<line x1="689.1" y1="332.8" x2="711.3" y2="344.4" stroke="#2f3442" stroke-width="1.3" stroke-linecap="round"/>
<line x1="689.1" y1="338" x2="703.9" y2="345.7" stroke="#2f3442" stroke-width="1.3" stroke-linecap="round"/>
</g>
<g id="B9" stroke="#2b303c" stroke-width="1.12" stroke-linejoin="round">
<polygon points="806.25,317.00 813.00,311.25 847.50,329.70 840.00,335.00" fill="url(#gtop)"/>
<polygon points="840.00,335.00 847.50,329.70 847.50,349.50 840.00,355.20" fill="url(#gright)"/>
<polygon points="806.25,317.00 840.00,335.00 840.00,355.20 806.25,337.20" fill="url(#gfront)" fill-opacity="1.0"/>
<polygon points="806.25,317.00 811.25,320.87 811.25,335.27 806.25,337.20" fill="#aebfe2" fill-opacity=".55" stroke="none"/>
<polygon points="806.25,337.20 811.25,335.27 839.40,350.60 840.00,355.20" fill="#eaf0fa" fill-opacity=".75" stroke="none"/>
<path d="M811.25 320.87 L811.25 335.27 L839.40 350.60" fill="none" stroke="#f1f5fb" stroke-opacity=".8" stroke-width="1.1"/>
<path d="M807.05 336.90 L811.25 335.27" fill="none" stroke="#f1f5fb" stroke-opacity=".6" stroke-width=".9"/>
<polygon points="806.25,317.00 813.00,311.25 819.00,314.45 812.25,320.20" fill="#cfdbf1" fill-opacity=".6" stroke="none"/>
<path d="M812.25 320.20 L819.00 314.45" fill="none" stroke="#e6edf8" stroke-opacity=".7" stroke-width=".9"/>
<polygon points="806.25,317.00 813.00,311.25 847.50,329.70 840.00,335.00" fill="none"/>
<polygon points="806.25,317.00 840.00,335.00 840.00,355.20 806.25,337.20" fill="none"/>
<line x1="813.3" y1="327.2" x2="834.5" y2="337.8" stroke="#2f3442" stroke-width="1.3" stroke-linecap="round"/>
<line x1="813.3" y1="332.9" x2="826" y2="339.3" stroke="#2f3442" stroke-width="1.3" stroke-linecap="round"/>
</g>
<g id="B10" stroke="#2b303c" stroke-width="1.12" stroke-linejoin="round">
<polygon points="590.50,321.00 598.50,315.40 663.00,349.40 655.20,354.50" fill="url(#gtop)"/>
<polygon points="655.20,354.50 663.00,349.40 663.00,396.60 655.20,402.20" fill="url(#gright)"/>
<polygon points="590.50,321.00 655.20,354.50 655.20,402.20 590.50,367.10" fill="url(#gfront)" fill-opacity="1.0"/>
<polygon points="590.50,321.00 595.50,324.79 595.50,365.21 590.50,367.10" fill="#aebfe2" fill-opacity=".55" stroke="none"/>
<polygon points="590.50,367.10 595.50,365.21 654.60,397.60 655.20,402.20" fill="#eaf0fa" fill-opacity=".75" stroke="none"/>
<path d="M595.50 324.79 L595.50 365.21 L654.60 397.60" fill="none" stroke="#f1f5fb" stroke-opacity=".8" stroke-width="1.1"/>
<path d="M591.30 366.80 L595.50 365.21" fill="none" stroke="#f1f5fb" stroke-opacity=".6" stroke-width=".9"/>
<polygon points="590.50,321.00 598.50,315.40 604.50,318.51 596.50,324.11" fill="#cfdbf1" fill-opacity=".6" stroke="none"/>
<path d="M596.50 324.11 L604.50 318.51" fill="none" stroke="#e6edf8" stroke-opacity=".7" stroke-width=".9"/>
<polygon points="590.50,321.00 598.50,315.40 663.00,349.40 655.20,354.50" fill="none"/>
<polygon points="590.50,321.00 655.20,354.50 655.20,402.20 590.50,367.10" fill="none"/>
<line x1="599.8" y1="333.9" x2="648" y2="360.2" stroke="#2f3442" stroke-width="1.3" stroke-linecap="round"/>
<line x1="599.8" y1="340" x2="648" y2="365.4" stroke="#2f3442" stroke-width="1.3" stroke-linecap="round"/>
<line x1="599.8" y1="345.9" x2="628.5" y2="361.7" stroke="#2f3442" stroke-width="1.3" stroke-linecap="round"/>
<line x1="599.8" y1="352.4" x2="619.3" y2="362.6" stroke="#2f3442" stroke-width="1.3" stroke-linecap="round"/>
<line x1="599.8" y1="359.8" x2="644.6" y2="383.3" stroke="#2f3442" stroke-width="1.3" stroke-linecap="round"/>
<line x1="599.8" y1="365.4" x2="634" y2="383" stroke="#2f3442" stroke-width="1.3" stroke-linecap="round"/>
</g>
<g id="B12" stroke="#2b303c" stroke-width="1.12" stroke-linejoin="round">
<polygon points="762.30,367.40 770.00,362.00 809.30,382.40 801.30,387.30" fill="url(#gtop)"/>
<polygon points="801.30,387.30 809.30,382.40 809.30,402.30 801.30,407.40" fill="url(#gright)"/>
<polygon points="762.30,367.40 801.30,387.30 801.30,407.40 762.30,387.30" fill="url(#gfront)" fill-opacity="1.0"/>
<polygon points="762.30,367.40 767.30,371.15 767.30,385.28 762.30,387.30" fill="#aebfe2" fill-opacity=".55" stroke="none"/>
<polygon points="762.30,387.30 767.30,385.28 800.70,402.80 801.30,407.40" fill="#eaf0fa" fill-opacity=".75" stroke="none"/>
<path d="M767.30 371.15 L767.30 385.28 L800.70 402.80" fill="none" stroke="#f1f5fb" stroke-opacity=".8" stroke-width="1.1"/>
<path d="M763.10 387.00 L767.30 385.28" fill="none" stroke="#f1f5fb" stroke-opacity=".6" stroke-width=".9"/>
<polygon points="762.30,367.40 770.00,362.00 776.00,365.06 768.30,370.46" fill="#cfdbf1" fill-opacity=".6" stroke="none"/>
<path d="M768.30 370.46 L776.00 365.06" fill="none" stroke="#e6edf8" stroke-opacity=".7" stroke-width=".9"/>
<polygon points="762.30,367.40 770.00,362.00 809.30,382.40 801.30,387.30" fill="none"/>
<polygon points="762.30,367.40 801.30,387.30 801.30,407.40 762.30,387.30" fill="none"/>
</g>
<g id="O2" stroke="#3a2418" stroke-width="1.12" stroke-linejoin="round">
<polygon points="834.60,406.20 842.00,400.40 880.60,420.60 872.70,424.90" fill="url(#otop)"/>
<polygon points="872.70,424.90 880.60,420.60 880.60,441.00 872.70,446.20" fill="url(#oright)"/>
<polygon points="834.60,406.20 872.70,424.90 872.70,446.20 834.60,426.40" fill="url(#ofront)" fill-opacity="1.0"/>
</g>
<g id="B11" stroke="#2b303c" stroke-width="1.12" stroke-linejoin="round">
<polygon points="671.90,364.80 680.10,359.30 734.30,387.40 726.90,393.60" fill="url(#gtop)"/>
<polygon points="726.90,393.60 734.30,387.40 734.30,434.40 726.90,439.40" fill="url(#gright)"/>
<polygon points="671.90,364.80 726.90,393.60 726.90,439.40 671.90,409.70" fill="url(#gfront)" fill-opacity="0.9"/>
<polygon points="671.90,364.80 676.90,368.62 676.90,407.80 671.90,409.70" fill="#aebfe2" fill-opacity=".55" stroke="none"/>
<polygon points="671.90,409.70 676.90,407.80 726.30,434.80 726.90,439.40" fill="#eaf0fa" fill-opacity=".75" stroke="none"/>
<path d="M676.90 368.62 L676.90 407.80 L726.30 434.80" fill="none" stroke="#f1f5fb" stroke-opacity=".8" stroke-width="1.1"/>
<path d="M672.70 409.40 L676.90 407.80" fill="none" stroke="#f1f5fb" stroke-opacity=".6" stroke-width=".9"/>
<polygon points="671.90,364.80 680.10,359.30 686.10,362.44 677.90,367.94" fill="#cfdbf1" fill-opacity=".6" stroke="none"/>
<path d="M677.90 367.94 L686.10 362.44" fill="none" stroke="#e6edf8" stroke-opacity=".7" stroke-width=".9"/>
<polygon points="671.90,364.80 680.10,359.30 734.30,387.40 726.90,393.60" fill="none"/>
<polygon points="671.90,364.80 726.90,393.60 726.90,439.40 671.90,409.70" fill="none"/>
<path d="M680.2 406.5 L692.8 395.1 L702 413.3 L709.1 409.1 L718.3 428.1 Z" fill="none" stroke="#2b303c" stroke-width="1.4"/><ellipse cx="689.6" cy="387.8" rx="3.1" ry="4" transform="rotate(-15 689.6 387.8)" fill="none" stroke="#2b303c" stroke-width="1.4"/><ellipse cx="708" cy="400.4" rx="2.5" ry="3.4" transform="rotate(-15 708 400.4)" fill="none" stroke="#2b303c" stroke-width="1.4"/>
</g>
<g id="B13" stroke="#2b303c" stroke-width="1.12" stroke-linejoin="round">
<polygon points="753.80,408.70 761.20,402.80 817.20,431.00 809.60,436.10" fill="url(#gtop)"/>
<polygon points="809.60,436.10 817.20,431.00 817.20,478.50 809.60,483.70" fill="url(#gright)"/>
<polygon points="753.80,408.70 809.60,436.10 809.60,483.70 753.80,452.80" fill="url(#gfront)" fill-opacity="0.95"/>
<polygon points="753.80,408.70 758.80,412.36 758.80,450.97 753.80,452.80" fill="#aebfe2" fill-opacity=".55" stroke="none"/>
<polygon points="753.80,452.80 758.80,450.97 809.00,479.10 809.60,483.70" fill="#eaf0fa" fill-opacity=".75" stroke="none"/>
<path d="M758.80 412.36 L758.80 450.97 L809.00 479.10" fill="none" stroke="#f1f5fb" stroke-opacity=".8" stroke-width="1.1"/>
<path d="M754.60 452.50 L758.80 450.97" fill="none" stroke="#f1f5fb" stroke-opacity=".6" stroke-width=".9"/>
<polygon points="753.80,408.70 761.20,402.80 767.20,405.75 759.80,411.65" fill="#cfdbf1" fill-opacity=".6" stroke="none"/>
<path d="M759.80 411.65 L767.20 405.75" fill="none" stroke="#e6edf8" stroke-opacity=".7" stroke-width=".9"/>
<polygon points="753.80,408.70 761.20,402.80 817.20,431.00 809.60,436.10" fill="none"/>
<polygon points="753.80,408.70 809.60,436.10 809.60,483.70 753.80,452.80" fill="none"/>
<line x1="762.1" y1="418.1" x2="802.1" y2="438.3" stroke="#2f3442" stroke-width="1.3" stroke-linecap="round"/>
<line x1="762.1" y1="424.8" x2="802.1" y2="445" stroke="#2f3442" stroke-width="1.3" stroke-linecap="round"/>
<line x1="762.1" y1="431.2" x2="787.9" y2="444.3" stroke="#2f3442" stroke-width="1.3" stroke-linecap="round"/>
<line x1="762.1" y1="438.3" x2="780.7" y2="447.9" stroke="#2f3442" stroke-width="1.3" stroke-linecap="round"/>
<line x1="762.1" y1="446.7" x2="801" y2="466.4" stroke="#2f3442" stroke-width="1.3" stroke-linecap="round"/>
<line x1="762.1" y1="453.1" x2="787.9" y2="465.7" stroke="#2f3442" stroke-width="1.3" stroke-linecap="round"/>
</g>
<g id="B14" stroke="#2b303c" stroke-width="1.12" stroke-linejoin="round">
<polygon points="825.50,446.50 833.10,441.00 896.30,474.00 888.60,478.00" fill="url(#gtop)"/>
<polygon points="888.60,478.00 896.30,474.00 896.30,521.00 888.60,525.80" fill="url(#gright)"/>
<polygon points="825.50,446.50 888.60,478.00 888.60,525.80 825.50,491.20" fill="url(#gfront)" fill-opacity="0.93"/>
<polygon points="825.50,446.50 830.50,450.20 830.50,489.34 825.50,491.20" fill="#aebfe2" fill-opacity=".55" stroke="none"/>
<polygon points="825.50,491.20 830.50,489.34 888.00,521.20 888.60,525.80" fill="#eaf0fa" fill-opacity=".75" stroke="none"/>
<path d="M830.50 450.20 L830.50 489.34 L888.00 521.20" fill="none" stroke="#f1f5fb" stroke-opacity=".8" stroke-width="1.1"/>
<path d="M826.30 490.90 L830.50 489.34" fill="none" stroke="#f1f5fb" stroke-opacity=".6" stroke-width=".9"/>
<polygon points="825.50,446.50 833.10,441.00 839.10,444.00 831.50,449.50" fill="#cfdbf1" fill-opacity=".6" stroke="none"/>
<path d="M831.50 449.50 L839.10 444.00" fill="none" stroke="#e6edf8" stroke-opacity=".7" stroke-width=".9"/>
<polygon points="825.50,446.50 833.10,441.00 896.30,474.00 888.60,478.00" fill="none"/>
<polygon points="825.50,446.50 888.60,478.00 888.60,525.80 825.50,491.20" fill="none"/>
<line x1="834.4" y1="460.6" x2="861.5" y2="475.1" stroke="#2f3442" stroke-width="1.3" stroke-linecap="round"/>
<line x1="834.4" y1="466.8" x2="878.9" y2="490.4" stroke="#2f3442" stroke-width="1.3" stroke-linecap="round"/>
<line x1="834.4" y1="473.8" x2="855.3" y2="484.2" stroke="#2f3442" stroke-width="1.3" stroke-linecap="round"/>
<line x1="834.4" y1="481.4" x2="865" y2="498.8" stroke="#2f3442" stroke-width="1.3" stroke-linecap="round"/>
</g>
<path d="M741.5 262 L741.5 273.2" fill="none" stroke="#30353f" stroke-width="7.0" stroke-linecap="round"/>
<path d="M741.5 260.5 L741.5 273.2" fill="none" stroke="#d6deea" stroke-width="5.00" stroke-linecap="round"/>
<path d="M741.5 260 L741.5 262" fill="none" stroke="#d6deea" stroke-width="5.00" stroke-linecap="butt"/>
<path d="M742.1 259 L742.1 272.7" fill="none" stroke="#eef2f8" stroke-width="3.00" stroke-linecap="round"/>
<path d="M659 222 L659 228.2" fill="none" stroke="#30353f" stroke-width="6.6" stroke-linecap="round"/>
<path d="M659 220.5 L659 228.2" fill="none" stroke="#d6deea" stroke-width="4.60" stroke-linecap="round"/>
<path d="M659 220 L659 222" fill="none" stroke="#d6deea" stroke-width="4.60" stroke-linecap="butt"/>
<path d="M659.6 219 L659.6 227.7" fill="none" stroke="#eef2f8" stroke-width="2.60" stroke-linecap="round"/>
<path d="M629 279 L629 285.7" fill="none" stroke="#30353f" stroke-width="6.6" stroke-linecap="round"/>
<path d="M629 277.5 L629 285.7" fill="none" stroke="#d6deea" stroke-width="4.60" stroke-linecap="round"/>
<path d="M629 277 L629 279" fill="none" stroke="#d6deea" stroke-width="4.60" stroke-linecap="butt"/>
<path d="M629.6 276 L629.6 285.2" fill="none" stroke="#eef2f8" stroke-width="2.60" stroke-linecap="round"/>
<path d="M702.5 319 L702.5 325.7" fill="none" stroke="#30353f" stroke-width="6.6" stroke-linecap="round"/>
<path d="M702.5 317.5 L702.5 325.7" fill="none" stroke="#d6deea" stroke-width="4.60" stroke-linecap="round"/>
<path d="M702.5 317 L702.5 319" fill="none" stroke="#d6deea" stroke-width="4.60" stroke-linecap="butt"/>
<path d="M703.1 316 L703.1 325.2" fill="none" stroke="#eef2f8" stroke-width="2.60" stroke-linecap="round"/>
<path d="M824.5 312 L824.5 318.7" fill="none" stroke="#30353f" stroke-width="6.6" stroke-linecap="round"/>
<path d="M824.5 310.5 L824.5 318.7" fill="none" stroke="#d6deea" stroke-width="4.60" stroke-linecap="round"/>
<path d="M824.5 310 L824.5 312" fill="none" stroke="#d6deea" stroke-width="4.60" stroke-linecap="butt"/>
<path d="M825.1 309 L825.1 318.2" fill="none" stroke="#eef2f8" stroke-width="2.60" stroke-linecap="round"/>
<path d="M783 363 L783 369.5" fill="none" stroke="#30353f" stroke-width="6.6" stroke-linecap="round"/>
<path d="M783 361.5 L783 369.5" fill="none" stroke="#d6deea" stroke-width="4.60" stroke-linecap="round"/>
<path d="M783 361 L783 363" fill="none" stroke="#d6deea" stroke-width="4.60" stroke-linecap="butt"/>
<path d="M783.6 360 L783.6 369.0" fill="none" stroke="#eef2f8" stroke-width="2.60" stroke-linecap="round"/>
<path d="M855.5 401 L855.5 408.5" fill="none" stroke="#30353f" stroke-width="6.6" stroke-linecap="round"/>
<path d="M855.5 399.5 L855.5 408.5" fill="none" stroke="#d6deea" stroke-width="4.60" stroke-linecap="round"/>
<path d="M855.5 399 L855.5 401" fill="none" stroke="#d6deea" stroke-width="4.60" stroke-linecap="butt"/>
<path d="M856.1 398 L856.1 408.0" fill="none" stroke="#eef2f8" stroke-width="2.60" stroke-linecap="round"/>
<path d="M629 326 L629 333.2" fill="none" stroke="#30353f" stroke-width="6.6" stroke-linecap="round"/>
<path d="M629 324.5 L629 333.2" fill="none" stroke="#d6deea" stroke-width="4.60" stroke-linecap="round"/>
<path d="M629 324 L629 326" fill="none" stroke="#d6deea" stroke-width="4.60" stroke-linecap="butt"/>
<path d="M629.6 323 L629.6 332.7" fill="none" stroke="#eef2f8" stroke-width="2.60" stroke-linecap="round"/>
<path d="M702.5 365 L702.5 371.2" fill="none" stroke="#30353f" stroke-width="6.6" stroke-linecap="round"/>
<path d="M702.5 363.5 L702.5 371.2" fill="none" stroke="#d6deea" stroke-width="4.60" stroke-linecap="round"/>
<path d="M702.5 363 L702.5 365" fill="none" stroke="#d6deea" stroke-width="4.60" stroke-linecap="butt"/>
<path d="M703.1 362 L703.1 370.7" fill="none" stroke="#eef2f8" stroke-width="2.60" stroke-linecap="round"/>
<path d="M783 407 L783 413.7" fill="none" stroke="#30353f" stroke-width="6.6" stroke-linecap="round"/>
<path d="M783 405.5 L783 413.7" fill="none" stroke="#d6deea" stroke-width="4.60" stroke-linecap="round"/>
<path d="M783 405 L783 407" fill="none" stroke="#d6deea" stroke-width="4.60" stroke-linecap="butt"/>
<path d="M783.6 404 L783.6 413.2" fill="none" stroke="#eef2f8" stroke-width="2.60" stroke-linecap="round"/>
<path d="M855.5 447 L855.5 453.7" fill="none" stroke="#30353f" stroke-width="6.6" stroke-linecap="round"/>
<path d="M855.5 445.5 L855.5 453.7" fill="none" stroke="#d6deea" stroke-width="4.60" stroke-linecap="round"/>
<path d="M855.5 445 L855.5 447" fill="none" stroke="#d6deea" stroke-width="4.60" stroke-linecap="butt"/>
<path d="M856.1 444 L856.1 453.2" fill="none" stroke="#eef2f8" stroke-width="2.60" stroke-linecap="round"/>
<g id="O3" stroke="#3a2418" stroke-width="1.12" stroke-linejoin="round">
<polygon points="706.80,457.10 714.60,452.20 773.30,482.80 766.00,486.40" fill="url(#otop)"/>
<polygon points="766.00,486.40 773.30,482.80 773.30,522.60 766.00,527.00" fill="url(#oright)"/>
<polygon points="706.80,457.10 766.00,486.40 766.00,527.00 706.80,495.20" fill="url(#ofront)" fill-opacity="1.0"/>
<line x1="715.7" y1="471.8" x2="757" y2="492.5" stroke="#3b2a2a" stroke-width="1.3" stroke-linecap="round"/>
<line x1="715.7" y1="483.9" x2="752.7" y2="502.8" stroke="#3b2a2a" stroke-width="1.3" stroke-linecap="round"/>
<line x1="715.7" y1="489.9" x2="731.5" y2="498.2" stroke="#3b2a2a" stroke-width="1.3" stroke-linecap="round"/>
</g>
<ellipse cx="739.7" cy="411.7" rx="4.6" ry="3" transform="rotate(-8 739.7 411.7)" fill="#d3d9dc" stroke="#8a9098" stroke-width=".8"/>
<path d="M729.80 415.40 L744.60 422.60" fill="none" stroke="#30353f" stroke-width="6.6" stroke-linecap="round" stroke-linejoin="miter"/>
<path d="M741.50 421.50 L741.50 471.00" fill="none" stroke="#30353f" stroke-width="6.6" stroke-linecap="round" stroke-linejoin="miter"/>
<path d="M729.80 415.40 L744.60 422.60" fill="none" stroke="#d6deea" stroke-width="4.60" stroke-linecap="round" stroke-linejoin="miter"/>
<path d="M741.50 421.50 L741.50 471.00" fill="none" stroke="#d6deea" stroke-width="4.60" stroke-linecap="round" stroke-linejoin="miter"/>
<path d="M729.80 415.40 L744.60 422.60" transform="translate(.6 -.5)" fill="none" stroke="#eef2f8" stroke-width="2.60" stroke-linecap="round" stroke-linejoin="miter"/>
<path d="M741.50 421.50 L741.50 471.00" transform="translate(.6 -.5)" fill="none" stroke="#eef2f8" stroke-width="2.60" stroke-linecap="round" stroke-linejoin="miter"/>
<g id="logo">
<circle cx="1237.4" cy="92.2" r="55" fill="#f37b2b"/>
<path fill-rule="evenodd" d="M1212.1 51.2 L1228.7 51.2 C1238 51.2 1244.8 58.5 1244.8 74.4 C1244.8 89 1238 98.2 1228.9 98.5 L1246.1 127.3 L1231.3 127.3 L1213.6 98.8 L1209.5 98.8 L1209.5 127.3 L1196.2 127.3 L1196.2 66 L1198.6 63.6 Z M1209.5 66.5 L1228.7 66.5 C1233.3 66.5 1235.9 69.8 1235.9 75.7 C1235.9 81 1233.3 85 1228.7 85 L1209.5 85 Z" fill="#0b0a09"/>
<path d="M1195.5 65.6 L1209.8 65.6" stroke="#f37b2b" stroke-width="1.5" fill="none"/>
<path d="M1195.5 98.6 L1224 98.6" stroke="#f37b2b" stroke-width=".6" fill="none"/>
<path d="M1245.8 57.2 L1292.8 90.5 L1245.2 126.6 L1253.1 90.9 Z" fill="#0b0a09"/>
</g></svg>
<div class="title" id="title">DOM Intelligence</div>
</body></html>
